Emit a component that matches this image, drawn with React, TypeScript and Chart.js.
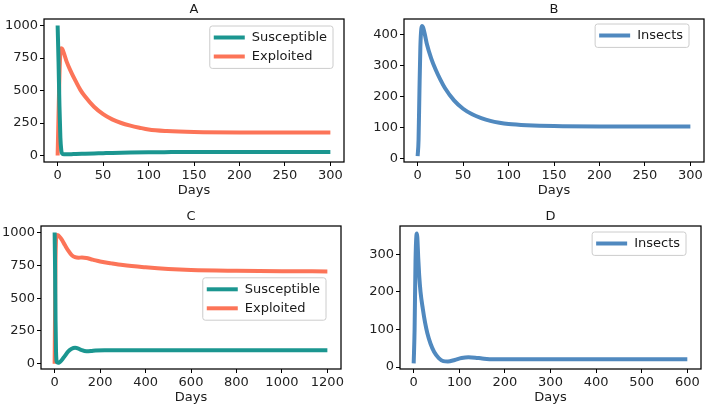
import React, { useEffect, useRef } from "react";
import { Chart, registerables } from "chart.js";

Chart.register(...registerables);

const FONT = "'DejaVu Sans', sans-serif";
const TEAL = "#1b9690";
const CORAL = "#fc7458";
const BLUE = "#5089bf";

// ---- Panel A ----
const aSusDays = [0, 1, 2, 3, 4, 5, 7, 10, 15, 20, 30, 40, 50, 60, 80, 100, 125, 150, 200, 250, 300];
const aSusVals = [1000, 720, 380, 140, 40, 14, 9, 9, 10, 12, 14, 16, 18, 20, 23, 25, 26, 27, 27, 27, 27];
const aExpDays = [0, 1, 2, 3, 4, 5, 7, 10, 15, 20, 25, 30, 40, 50, 60, 70, 80, 90, 100, 120, 150, 200, 250, 300];
const aExpVals = [0, 320, 620, 790, 825, 820, 785, 720, 640, 570, 505, 455, 375, 318, 278, 250, 230, 214, 200, 188, 180, 177, 177, 177];
const aXTicks = [0, 50, 100, 150, 200, 250, 300];
const aYTicks = [0, 250, 500, 750, 1000];

// ---- Panel B ----
const bInsDays = [0, 1, 2, 3, 4, 5, 6, 8, 10, 15, 20, 25, 30, 40, 50, 60, 70, 80, 90, 100, 120, 150, 200, 250, 300];
const bInsVals = [8, 60, 220, 360, 418, 428, 424, 400, 372, 323, 286, 255, 228, 188, 161, 143, 131, 122, 116, 112, 108, 105, 104, 104, 104];
const bXTicks = [0, 50, 100, 150, 200, 250, 300];
const bYTicks = [0, 100, 200, 300, 400];

// ---- Panel C ----
const cSusDays = [0, 2, 4, 6, 8, 10, 15, 20, 30, 45, 60, 75, 90, 105, 120, 140, 160, 180, 220, 300, 400, 600, 800, 1000, 1200];
const cSusVals = [1000, 720, 330, 100, 25, 12, 8, 10, 25, 60, 95, 115, 122, 116, 103, 95, 97, 101, 103, 102, 102, 102, 102, 102, 102];
const cExpDays = [0, 2, 4, 6, 8, 10, 15, 20, 30, 45, 60, 75, 90, 105, 120, 140, 160, 180, 200, 250, 300, 400, 500, 600, 800, 1000, 1200];
const cExpVals = [0, 420, 800, 940, 975, 982, 980, 972, 950, 905, 862, 828, 812, 808, 810, 806, 797, 788, 780, 765, 752, 735, 722, 714, 708, 705, 704];
const cXTicks = [0, 200, 400, 600, 800, 1000, 1200];
const cYTicks = [0, 250, 500, 750, 1000];

// ---- Panel D ----
const dInsDays = [0, 2, 4, 6, 7, 8, 10, 12, 15, 20, 25, 30, 37, 45, 55, 65, 75, 90, 105, 120, 135, 150, 175, 200, 300, 400, 500, 600];
const dInsVals = [10, 100, 280, 350, 355, 345, 290, 245, 200, 155, 118, 90, 62, 40, 24, 16, 15, 19, 24, 26, 25, 23, 21, 21, 21, 21, 21, 21];
const dXTicks = [0, 100, 200, 300, 400, 500, 600];
const dYTicks = [0, 100, 200, 300];

type Series = { label: string; color: string; days: number[]; vals: number[] };
type PanelCfg = {
  title: string;
  left: number; top: number; w: number; h: number;
  padTop: number; padRight: number; yW: number; xH: number;
  xMin: number; xMax: number; yMin: number; yMax: number;
  xTicks: number[]; yTicks: number[];
  series: Series[];
  legend: { mode: "ur" | "cr"; dx: number; dy: number };
};

const panels: PanelCfg[] = [
  {
    title: "A", left: 0, top: 0, w: 354, h: 204,
    padTop: 19, padRight: 10, yW: 44, xH: 42,
    xMin: -15, xMax: 315, yMin: -50, yMax: 1050,
    xTicks: aXTicks, yTicks: aYTicks,
    series: [
      { label: "Susceptible", color: TEAL, days: aSusDays, vals: aSusVals },
      { label: "Exploited", color: CORAL, days: aExpDays, vals: aExpVals },
    ],
    legend: { mode: "ur", dx: 11, dy: 7 },
  },
  {
    title: "B", left: 354, top: 0, w: 354, h: 204,
    padTop: 19, padRight: 4, yW: 50, xH: 42,
    xMin: -15, xMax: 315, yMin: -11, yMax: 451,
    xTicks: bXTicks, yTicks: bYTicks,
    series: [{ label: "Insects", color: BLUE, days: bInsDays, vals: bInsVals }],
    legend: { mode: "ur", dx: 15, dy: 5 },
  },
  {
    title: "C", left: 0, top: 204, w: 354, h: 205,
    padTop: 22, padRight: 13, yW: 41, xH: 40,
    xMin: -60, xMax: 1260, yMin: -40, yMax: 1050,
    xTicks: cXTicks, yTicks: cYTicks,
    series: [
      { label: "Susceptible", color: TEAL, days: cSusDays, vals: cSusVals },
      { label: "Exploited", color: CORAL, days: cExpDays, vals: cExpVals },
    ],
    legend: { mode: "cr", dx: 15, dy: 0 },
  },
  {
    title: "D", left: 354, top: 204, w: 354, h: 205,
    padTop: 22, padRight: 7, yW: 46, xH: 40,
    xMin: -30, xMax: 630, yMin: -5, yMax: 375,
    xTicks: dXTicks, yTicks: dYTicks,
    series: [{ label: "Insects", color: BLUE, days: dInsDays, vals: dInsVals }],
    legend: { mode: "ur", dx: 15, dy: 6 },
  },
];

function makeDecor(cfg: PanelCfg) {
  return {
    id: "decor",
    afterDraw(chart: any) {
      const { ctx, chartArea: ca } = chart;
      ctx.save();
      // frame
      ctx.strokeStyle = "#000";
      ctx.lineWidth = 1.25;
      ctx.strokeRect(ca.left, ca.top, ca.right - ca.left, ca.bottom - ca.top);
      // titles
      ctx.fillStyle = "#1a1a1a";
      ctx.font = `13px ${FONT}`;
      ctx.textAlign = "center";
      ctx.textBaseline = "middle";
      const cx = (ca.left + ca.right) / 2;
      ctx.fillText(cfg.title, cx, ca.top - 9.5);
      ctx.fillText("Days", cx, ca.bottom + 29);
      // legend
      const n = cfg.series.length;
      let tw = 0;
      cfg.series.forEach((s) => { tw = Math.max(tw, ctx.measureText(s.label).width); });
      const bw = 42 + tw + 6;
      const bh = 4.4 + 19 * n;
      const bx = ca.right - cfg.legend.dx - bw;
      const by = cfg.legend.mode === "ur" ? ca.top + cfg.legend.dy : (ca.top + ca.bottom) / 2 - bh / 2 + 1.5;
      ctx.beginPath();
      const r = 2.5;
      ctx.moveTo(bx + r, by);
      ctx.arcTo(bx + bw, by, bx + bw, by + bh, r);
      ctx.arcTo(bx + bw, by + bh, bx, by + bh, r);
      ctx.arcTo(bx, by + bh, bx, by, r);
      ctx.arcTo(bx, by, bx + bw, by, r);
      ctx.closePath();
      ctx.fillStyle = "rgba(255,255,255,0.8)";
      ctx.fill();
      ctx.strokeStyle = "#cccccc";
      ctx.lineWidth = 1;
      ctx.stroke();
      ctx.textAlign = "left";
      cfg.series.forEach((s, i) => {
        const y = by + 11.5 + 19 * i;
        ctx.strokeStyle = s.color;
        ctx.lineWidth = 4;
        ctx.beginPath();
        ctx.moveTo(bx + 4, y);
        ctx.lineTo(bx + 35, y);
        ctx.stroke();
        ctx.fillStyle = "#1a1a1a";
        ctx.fillText(s.label, bx + 42, y);
      });
      ctx.restore();
    },
  };
}

function Panel({ cfg }: { cfg: PanelCfg }) {
  const ref = useRef<HTMLCanvasElement | null>(null);
  useEffect(() => {
    if (!ref.current) return;
    const tickFont = { family: FONT, size: 13 };
    const chart = new Chart(ref.current, {
      type: "line",
      data: {
        datasets: cfg.series.map((s) => ({
          label: s.label,
          data: s.days.map((d, i) => ({ x: d, y: s.vals[i] })),
          borderColor: s.color,
          backgroundColor: s.color,
          borderWidth: 4,
          pointRadius: 0,
          fill: false,
          cubicInterpolationMode: "monotone" as const,
        })),
      },
      options: {
        animation: false,
        responsive: false,
        maintainAspectRatio: false,
        layout: { padding: { top: cfg.padTop, right: cfg.padRight, left: 0, bottom: 0 } },
        plugins: { legend: { display: false }, tooltip: { enabled: false }, title: { display: false } },
        scales: {
          x: {
            type: "linear",
            min: cfg.xMin,
            max: cfg.xMax,
            afterBuildTicks: (ax: any) => { ax.ticks = cfg.xTicks.map((v) => ({ value: v })); },
            afterFit: (ax: any) => { ax.height = cfg.xH; ax.paddingLeft = 0; ax.paddingRight = 0; },
            grid: { display: true, drawOnChartArea: false, drawTicks: true, tickLength: 4, color: "#000", lineWidth: 1 },
            border: { display: false },
            ticks: { font: tickFont, color: "#222", padding: 2, maxRotation: 0, autoSkip: false, callback: (v: any) => String(v) },
          },
          y: {
            type: "linear",
            min: cfg.yMin,
            max: cfg.yMax,
            afterBuildTicks: (ax: any) => { ax.ticks = cfg.yTicks.map((v) => ({ value: v })); },
            afterFit: (ax: any) => { ax.width = cfg.yW; ax.paddingTop = 0; ax.paddingBottom = 0; },
            grid: { display: true, drawOnChartArea: false, drawTicks: true, tickLength: 4, color: "#000", lineWidth: 1 },
            border: { display: false },
            ticks: { font: tickFont, color: "#222", padding: 2, autoSkip: false, callback: (v: any) => String(v) },
          },
        },
      },
      plugins: [makeDecor(cfg)],
    });
    return () => chart.destroy();
  }, [cfg]);
  return (
    <canvas
      ref={ref}
      width={cfg.w}
      height={cfg.h}
      style={{ position: "absolute", left: cfg.left, top: cfg.top, width: cfg.w, height: cfg.h }}
    />
  );
}

export default function App() {
  return (
    <div style={{ position: "absolute", left: 0, top: 0, width: 708, height: 409, background: "#fff" }}>
      {panels.map((p) => (
        <Panel key={p.title} cfg={p} />
      ))}
    </div>
  );
}
